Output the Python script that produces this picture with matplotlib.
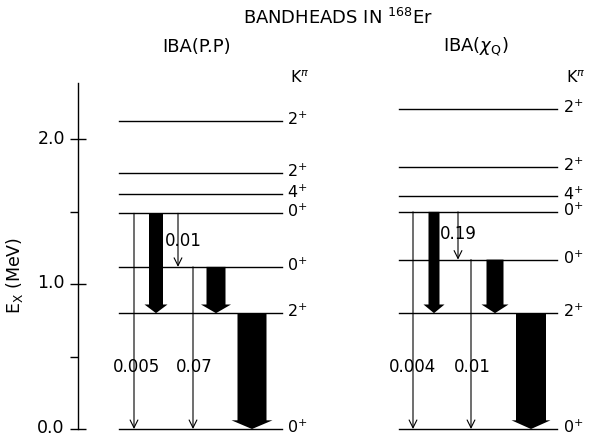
import matplotlib
matplotlib.use('Agg')
import matplotlib.pyplot as plt
import matplotlib.transforms as mtransforms
from matplotlib.patches import FancyArrow

# level energies (MeV) and K^pi labels, both model calculations
kpi = ['0$^{+}$', '2$^{+}$', '0$^{+}$', '0$^{+}$', '4$^{+}$', '2$^{+}$', '2$^{+}$']
e_pp = [0.0, 0.80, 1.12, 1.49, 1.62, 1.77, 2.13]
e_xq = [0.0, 0.80, 1.17, 1.50, 1.61, 1.81, 2.21]

# transitions: (from level index, to level index)
thin_trans = [(3, 0), (3, 2), (2, 0)]
thick_trans = [(3, 1), (2, 1), (1, 0)]
lab_pp = ['0.005', '0.01', '0.07']
lab_xq = ['0.004', '0.19', '0.01']

# layout (x in pixel-like units)
panels = [
    dict(e=e_pp, lab=lab_pp, x0=119, x1=282, xk=287, title='IBA(P.P)', xt=197,
         xthin=[134, 178, 193], xthick=[156, 216, 252],
         wb=[14, 19, 29], wh=[23, 30, 41],
         labpos=[(136, 0.43), (183, 1.30), (194, 0.43)]),
    dict(e=e_xq, lab=lab_xq, x0=399, x1=557, xk=563, title=r'IBA($\chi_{\mathregular{Q}}$)', xt=476,
         xthin=[413, 458, 471], xthick=[434, 495, 531],
         wb=[11, 17, 30], wh=[21, 27, 39],
         labpos=[(412, 0.43), (458, 1.35), (472, 0.43)]),
]

fs = 12
fig = plt.figure(figsize=(5.93, 4.38), dpi=100)
ax = fig.add_axes([78/593, 9/438, 1 - 78/593, (429-83)/438])
ax.set_xlim(78, 593)
ax.set_ylim(0, 2.39)

for s in ['top', 'right', 'bottom']:
    ax.spines[s].set_visible(False)
ax.spines['left'].set_linewidth(1.0)
ax.set_xticks([])
ax.set_yticks([0, 1, 2])
ax.set_yticklabels(['0.0', '1.0', '2.0'])
ax.set_yticks([0.5, 1.5], minor=True)
ax.tick_params(axis='y', which='major', direction='inout', length=12, width=1, labelsize=12.5)
ax.tick_params(axis='y', which='minor', direction='out', length=6, width=1)
# nudge tick labels up a little so 0.0 stays inside the figure
for lbl in ax.get_yticklabels():
    lbl.set_transform(lbl.get_transform() + mtransforms.ScaledTranslation(0, 2/72, fig.dpi_scale_trans))
ax.set_ylabel(r'E$_{\mathregular{X}}$ (MeV)', fontsize=12.5)
ax.yaxis.set_label_coords(-0.103, 0.445)

for p in panels:
    e = p['e']
    # levels
    for i, en in enumerate(e):
        ax.plot([p['x0'], p['x1']], [en, en], color='black', lw=1.0, clip_on=False)
        ax.text(p['xk'], en + 0.012, kpi[i], fontsize=11.5, ha='left', va='center', clip_on=False)
    ax.text(p['xk'] + 3, 2.43, r'K$^{\pi}$', fontsize=11.5, ha='left', va='center', clip_on=False)
    ax.text(p['xt'], 2.64, p['title'], fontsize=13, ha='center', va='center', clip_on=False)

    # weak transitions
    for (a, b), x in zip(thin_trans, p['xthin']):
        ax.annotate('', xy=(x, e[b]), xytext=(x, e[a]),
                    arrowprops=dict(arrowstyle='->', lw=0.8, color='black',
                                    shrinkA=0, shrinkB=0, mutation_scale=14))
    for t, (x, y) in zip(p['lab'], p['labpos']):
        ax.text(x, y, t, fontsize=12, ha='center', va='center')

    # strong transitions
    for (a, b), x, wb, wh in zip(thick_trans, p['xthick'], p['wb'], p['wh']):
        ax.add_patch(FancyArrow(x, e[a], 0, e[b] - e[a], width=wb, head_width=wh,
                                head_length=0.06, length_includes_head=True,
                                color='black', lw=0, clip_on=False))

ax.text(338, 2.84, r'BANDHEADS IN $^{168}$Er', fontsize=13, ha='center', va='center', clip_on=False)

fig.savefig('out.png', dpi=100)
